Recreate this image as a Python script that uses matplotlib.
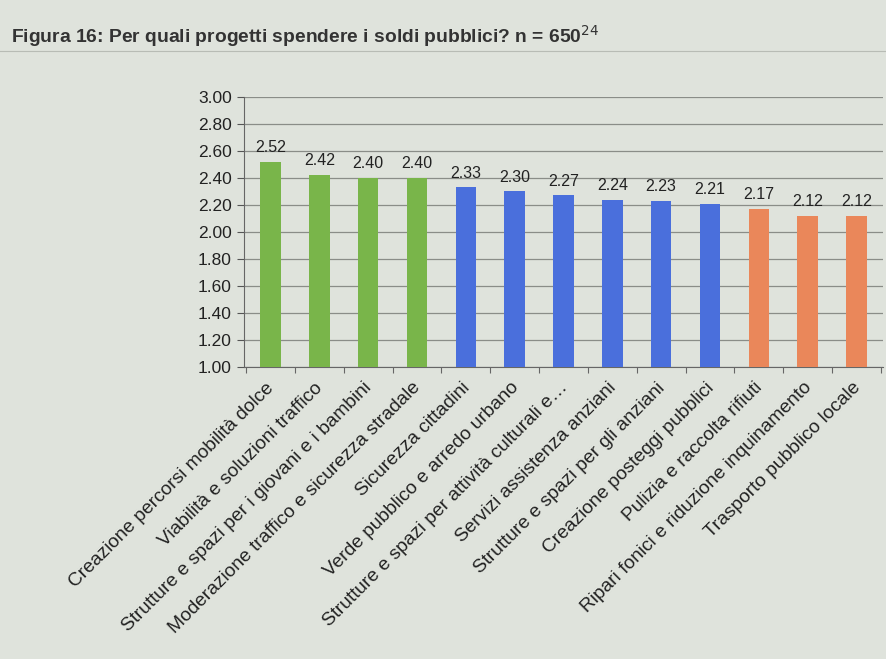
import matplotlib.pyplot as plt
from matplotlib.ticker import FormatStrFormatter

plt.rcParams["font.family"] = ["Liberation Sans", "DejaVu Sans"]

# ─────────────────────────────────────────────
# DATA
# ─────────────────────────────────────────────
categories = [
    "Creazione percorsi mobilità dolce",
    "Viabilità e soluzioni traffico",
    "Strutture e spazi per i giovani e i bambini",
    "Moderazione traffico e sicurezza stradale",
    "Sicurezza cittadini",
    "Verde pubblico e arredo urbano",
    "Strutture e spazi per attività culturali e…",
    "Servizi assistenza anziani",
    "Strutture e spazi per gli anziani",
    "Creazione posteggi pubblici",
    "Pulizia e raccolta rifiuti",
    "Ripari fonici e riduzione inquinamento",
    "Trasporto pubblico locale",
]
values = [2.52, 2.42, 2.40, 2.40, 2.33, 2.30, 2.27, 2.24, 2.23, 2.21, 2.17, 2.12, 2.12]
groups = ["g"] * 4 + ["b"] * 6 + ["o"] * 3
y_ticks = [1.00, 1.20, 1.40, 1.60, 1.80, 2.00, 2.20, 2.40, 2.60, 2.80, 3.00]

group_colors = {"g": "#79b54a", "b": "#4a6fdc", "o": "#ea875a"}
bg = "#dfe3dc"

# ─────────────────────────────────────────────
# DRAW
# ─────────────────────────────────────────────
fig = plt.figure(figsize=(8.86, 6.59), dpi=100, facecolor=bg)
ax = fig.add_axes([0.275, 0.443, 0.722, 0.41])
ax.set_facecolor(bg)

x = range(len(categories))
colors = [group_colors[g] for g in groups]
ax.bar(x, [v - 1.0 for v in values], bottom=1.0, width=0.42,
       color=colors, zorder=3)

for xi, v in zip(x, values):
    ax.text(xi, v + 0.05, f"{v:.2f}", ha="center", va="bottom",
            fontsize=11.5, color="#222222")

ax.set_xlim(-0.55, len(categories) - 0.45)
ax.set_ylim(1.0, 3.0)
ax.set_yticks(y_ticks)
ax.yaxis.set_major_formatter(FormatStrFormatter("%.2f"))
ax.tick_params(axis="y", length=5, labelsize=12.5, color="#555555",
               labelcolor="#222222")
ax.grid(axis="y", color="#8a8d88", linewidth=0.9, zorder=0)

ax.set_xticks([i - 0.5 for i in range(len(categories) + 1)])
ax.set_xticklabels([])
ax.tick_params(axis="x", length=4, color="#666666")

# rotated category labels, right end hanging just below each bar
for xi, lab in zip(x, categories):
    ax.text(xi - 0.1, -0.045, lab, rotation=45, ha="right", va="top",
            rotation_mode="anchor", fontsize=13.8,
            color="#222222", transform=ax.get_xaxis_transform())

for side in ["top", "right"]:
    ax.spines[side].set_visible(False)
ax.spines["left"].set_color("#666666")
ax.spines["bottom"].set_color("#666666")

fig.text(0.012, 0.945, "Figura 16: Per quali progetti spendere i soldi pubblici? n = 650$^{24}$",
         fontsize=13.9, fontweight="bold", color="#333333", va="center")
fig.add_artist(plt.Line2D([0.0, 1.0], [0.922, 0.922], color="#b8bcb5",
                          linewidth=0.8, transform=fig.transFigure))

fig.savefig("out.png", dpi=100, facecolor=bg)
